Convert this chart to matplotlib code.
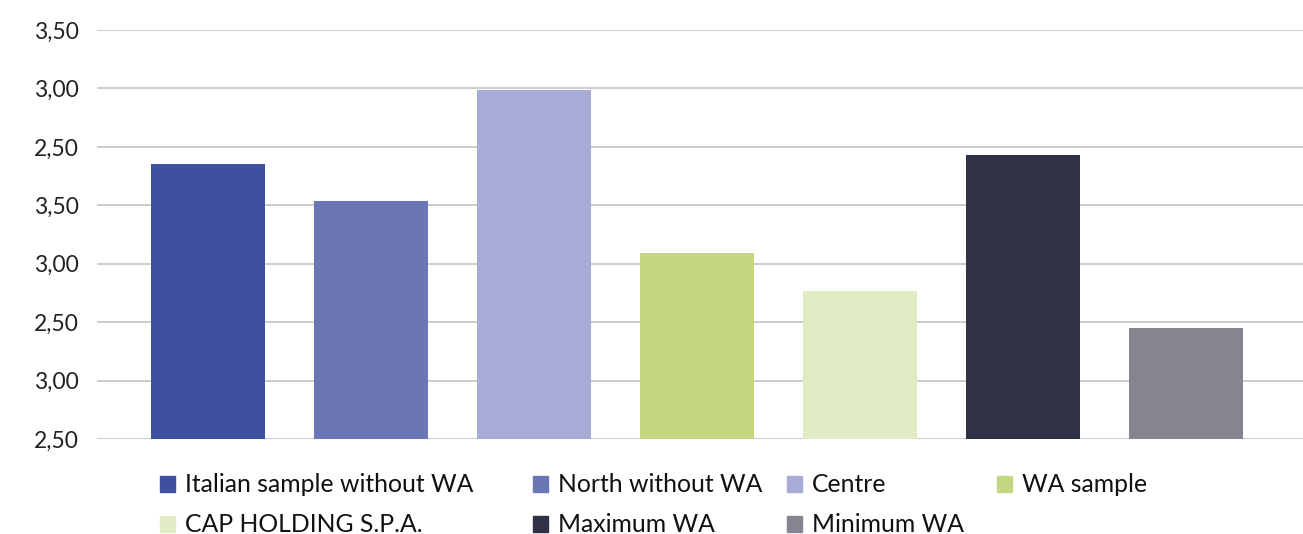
import matplotlib.pyplot as plt
from matplotlib.patches import Rectangle

plt.rcParams['font.family'] = ['Lato', 'DejaVu Sans']

# Data (tick positions 0..3.5, labels as printed)
categories = ["Italian sample without WA", "North without WA", "Centre", "WA sample",
              "CAP HOLDING S.P.A.", "Maximum WA", "Minimum WA"]
values = [2.35, 2.035, 2.985, 1.59, 1.265, 2.43, 0.95]
colors = ["#3D519E", "#6D76B5", "#A9ABD7", "#C3D781", "#E1EBC4", "#2F3245", "#878390"]
tick_pos = [0.0, 0.5, 1.0, 1.5, 2.0, 2.5, 3.0, 3.5]
tick_labels = ["2,50", "3,00", "2,50", "3,00", "3,50", "2,50", "3,00", "3,50"]

fig = plt.figure(figsize=(13.03, 5.34), dpi=100)
ax = fig.add_axes([97 / 1303, 1 - 439 / 534, 1 - 97 / 1303, (439 - 30) / 534])

x = list(range(len(categories)))
ax.bar(x, values, width=0.7, color=colors, zorder=3)

ax.set_ylim(0, 3.5)
ax.set_xlim(-0.681, 6.718)
ax.set_yticks(tick_pos)
ax.set_yticklabels(tick_labels, fontsize=16.5, color="#222222")
ax.set_xticks([])
ax.yaxis.grid(True, color="#C8C8C8", linewidth=1.3, zorder=0)
ax.tick_params(axis="y", length=0, pad=13)
for s in ax.spines.values():
    s.set_visible(False)

# legend laid out by hand, two rows of four
col_x = [160, 533, 787, 997]
row_y = [484, 524]
for i, (lab, c) in enumerate(zip(categories, colors)):
    px = col_x[i % 4]
    py = row_y[i // 4]
    fig.patches.append(Rectangle((px / 1303, 1 - (py + 8) / 534), 15 / 1303, 16 / 534,
                                 transform=fig.transFigure, color=c, figure=fig))
    fig.text((px + 25) / 1303, 1 - py / 534, lab, fontsize=17.8, va="center",
             ha="left", color="#111111")

fig.savefig("out.png", dpi=100)
